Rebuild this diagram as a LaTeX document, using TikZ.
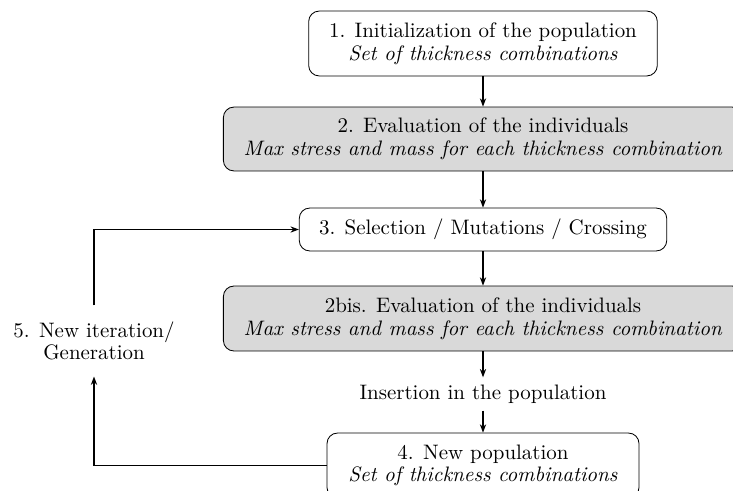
\documentclass[tikz,border=0pt]{standalone}
\usetikzlibrary{arrows.meta}
\begin{document}
\begin{tikzpicture}[x=0.4776pt,y=-0.4776pt,
  every node/.style={font=\fontsize{10pt}{10.8pt}\selectfont, align=center},
  stepbox/.style={draw, thin, rounded corners=5pt, inner sep=0pt},
  graybox/.style={stepbox, fill=gray!30},
  arr/.style={draw, semithick, -{Stealth[length=4pt,width=3pt]}}]
\clip (0,0) rectangle (733,490);
\useasboundingbox (0,0) rectangle (733,490);
\node[stepbox, minimum width=166.5pt, minimum height=31pt] (b1) at (483,43.5)
  {1. Initialization of the population\\ \textit{Set of thickness combinations}};
\node[graybox, minimum width=248pt, minimum height=30.5pt] (b2) at (483,139)
  {2. Evaluation of the individuals\\ \textit{Max stress and mass for each thickness combination}};
\node[stepbox, minimum width=175.5pt, minimum height=20.5pt] (b3) at (483,229.5)
  {3. Selection / Mutations / Crossing};
\node[graybox, minimum width=248pt, minimum height=31pt] (b2b) at (483,318.5)
  {2bis. Evaluation of the individuals\\ \textit{Max stress and mass for each thickness combination}};
\node (ins) at (483,394) {Insertion in the population};
\node[stepbox, minimum width=149pt, minimum height=31pt] (b4) at (483,465.5)
  {4. New population\\ \textit{Set of thickness combinations}};
\node[inner sep=7.5pt] (l5) at (94,341) {5. New iteration/\\ Generation};
\draw[arr] (b1) -- (b2);
\draw[arr] (b2) -- (b3);
\draw[arr] (b3) -- (b2b);
\draw[arr] (b2b) -- (ins);
\draw[arr] (ins) -- (b4);
\draw[arr] (b4.west) -| (l5.south);
\draw[arr] (l5.north) |- (b3.west);
\end{tikzpicture}
\end{document}
